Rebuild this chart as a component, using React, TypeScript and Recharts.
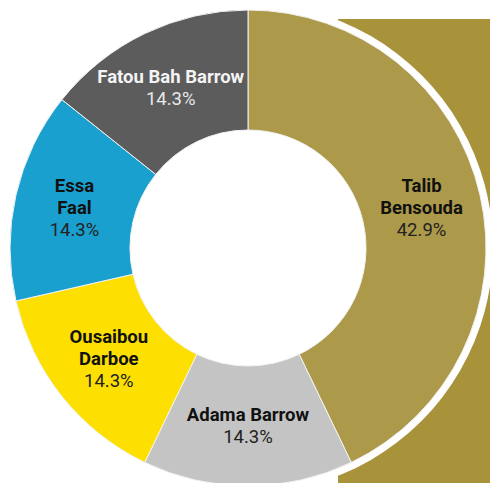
import { Cell, Pie, PieChart } from "recharts";

const candidates = ["Talib Bensouda", "Adama Barrow", "Ousaibou Darboe", "Essa Faal", "Fatou Bah Barrow"];
const nameLines = [["Talib", "Bensouda"], ["Adama Barrow"], ["Ousaibou", "Darboe"], ["Essa", "Faal"], ["Fatou Bah Barrow"]];
const votes = [3, 1, 1, 1, 1];
const colors = ["#ad994a", "#c4c4c4", "#fde001", "#1aa0cf", "#5c5c5c"];
const darkSlices = [false, false, false, false, true];

const data = candidates.map((name, i) => ({ name, value: votes[i] }));
const backdrop = [{ name: "backdrop", value: 1 }];

const renderLabel = (props: any) => {
  const { cx, cy, midAngle, innerRadius, outerRadius, percent, index } = props;
  const RAD = Math.PI / 180;
  const r = (innerRadius + outerRadius) / 2;
  const x = cx + r * Math.cos(-midAngle * RAD);
  const y = cy + r * Math.sin(-midAngle * RAD);
  const lines = nameLines[index];
  const lh = 22;
  const top = y - (lines.length * lh) / 2;
  const dark = darkSlices[index];
  return (
    <text x={x} y={top} textAnchor="middle" dominantBaseline="central" fontFamily="Roboto" fontSize={18.5}>
      {lines.map((l, i) => (
        <tspan key={i} x={x} y={top + i * lh} fontWeight={700} fill={dark ? "#f4f4f4" : "#111"}>
          {l}
        </tspan>
      ))}
      <tspan x={x} y={top + lines.length * lh} fontWeight={400} fill={dark ? "#e8e8e8" : "#222"}>
        {(percent * 100).toFixed(1)}%
      </tspan>
    </text>
  );
};

export default function App() {
  return (
    <div style={{ position: "fixed", left: 0, top: 0, width: 490, height: 483, background: "#fff", overflow: "hidden" }}>
      <div style={{ position: "absolute", left: 338, top: 19, width: 152, height: 464, background: "#a8933b" }} />
      <div style={{ position: "absolute", left: 0, top: 0 }}>
        <PieChart width={490} height={483} margin={{ top: 0, right: 0, bottom: 0, left: 0 }}>
          <Pie
            data={backdrop}
            dataKey="value"
            cx={248}
            cy={248}
            innerRadius={0}
            outerRadius={245}
            fill="#fff"
            stroke="none"
            isAnimationActive={false}
          />
          <Pie
            data={data}
            dataKey="value"
            nameKey="name"
            cx={248}
            cy={248}
            innerRadius={118}
            outerRadius={238}
            startAngle={90}
            endAngle={-270}
            stroke="#f2f2f2"
            strokeWidth={1}
            labelLine={false}
            label={renderLabel}
            isAnimationActive={false}
          >
            {data.map((d, i) => (
              <Cell key={d.name} fill={colors[i]} />
            ))}
          </Pie>
        </PieChart>
      </div>
    </div>
  );
}
